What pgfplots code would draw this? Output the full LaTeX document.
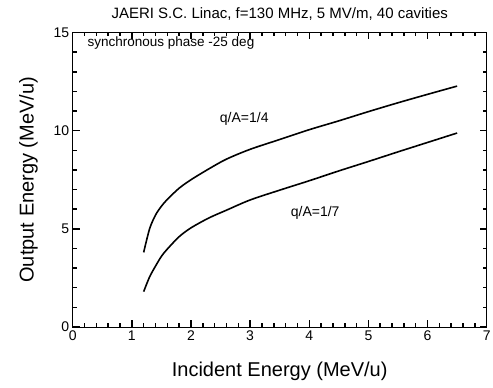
\documentclass[border=0pt]{standalone}
\usepackage{pgfplots}
\pgfplotsset{compat=1.18}
\usepackage{fontspec}
\setmainfont{Liberation Sans}
\begin{document}
\begin{tikzpicture}
\begin{axis}[
  scale only axis, width=414pt, height=294.5pt,
  xmin=0, xmax=7, ymin=0, ymax=15,
  xtick={0,1,2,3,4,5,6,7}, ytick={0,5,10,15},
  minor x tick num=4, minor y tick num=4,
  tick align=inside,
  major tick length=7pt, minor tick length=4pt,
  every tick/.append style={black, line width=1.5pt},
  every tick label/.append style={font=\fontsize{14}{16}\selectfont},
  xticklabels={0,1,2,3,4,5,6,7}, yticklabels={0,5,10,15},
  xlabel={\fontsize{20}{24}\selectfont Incident Energy (MeV/u)},
  ylabel={\fontsize{20}{24}\selectfont Output Energy (MeV/u)},
  xlabel style={at={(axis description cs:0.5,0)}, yshift=-44.7pt, anchor=center},
  ylabel style={at={(axis description cs:-0.107,0.5)}, anchor=center},
  title={\fontsize{15}{18}\selectfont JAERI S.C. Linac, f=130 MHz, 5 MV/m, 40 cavities},
  title style={at={(axis description cs:0.5,1)}, yshift=12.5pt, anchor=center},
]
\addplot[black, line width=1.6pt, smooth] coordinates {
(1.2,3.8) (1.3,5.0) (1.4,5.7) (1.5,6.15) (1.6,6.5) (1.8,7.07) (2.0,7.5)
(2.3,8.05) (2.6,8.55) (3.0,9.05) (3.5,9.55) (4.0,10.05) (4.5,10.5)
(5.0,10.97) (5.5,11.42) (6.0,11.85) (6.5,12.27)};
\addplot[black, line width=1.6pt, smooth] coordinates {
(1.2,1.8) (1.3,2.55) (1.4,3.1) (1.5,3.6) (1.6,3.97) (1.8,4.6) (2.0,5.05)
(2.3,5.55) (2.6,5.95) (3.0,6.47) (3.5,6.97) (4.0,7.45) (4.5,7.95)
(5.0,8.43) (5.5,8.92) (6.0,9.4) (6.5,9.88)};
\node[font=\fontsize{13.5}{16}\selectfont, anchor=west, inner sep=0pt] at (axis cs:0.25,14.45) {synchronous phase -25 deg};
\node[font=\fontsize{14}{17}\selectfont, anchor=center, inner sep=0pt] at (axis cs:2.90,10.6) {q/A=1/4};
\node[font=\fontsize{14}{17}\selectfont, anchor=center, inner sep=0pt] at (axis cs:4.10,5.79) {q/A=1/7};
\end{axis}
\pgfresetboundingbox
\useasboundingbox (-72.7pt,-61pt) rectangle (420.3pt,327pt);
\end{tikzpicture}
\end{document}
